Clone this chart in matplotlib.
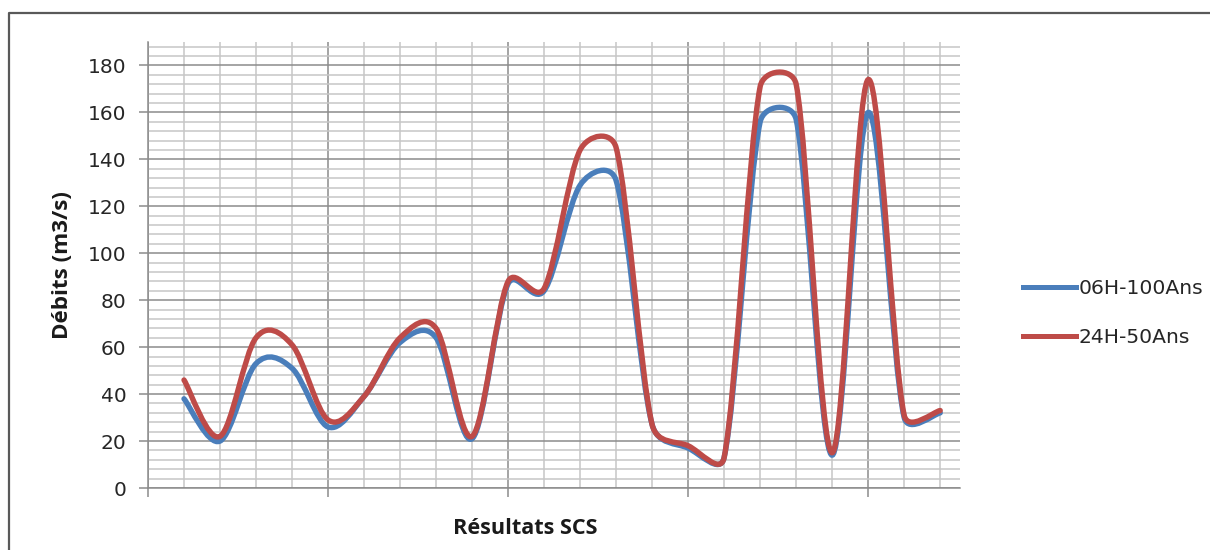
import numpy as np
import matplotlib

matplotlib.use("Agg")
import matplotlib.pyplot as plt
from matplotlib.path import Path
from matplotlib.patches import PathPatch
from matplotlib.lines import Line2D
from matplotlib.ticker import MultipleLocator

plt.rcParams["font.family"] = ["DejaVu Sans"]

# débits par point de calcul (m3/s)
points = np.arange(1, 23)
debit_06h_100ans = [38, 20, 53, 51, 26, 39, 62, 64, 21, 87, 84, 129,
                    131, 27, 17, 13, 156, 157, 14, 160, 30, 32]
debit_24h_50ans = [46, 22, 64, 61, 29, 39, 64, 68, 22, 88, 85, 144,
                   145, 27, 18, 13, 171, 172, 15, 174, 31, 33]
series_labels = ["06H-100Ans", "24H-50Ans"]
series_colors = ["#4a7ebb", "#be4b48"]

W, H = 1210, 550
fig = plt.figure(figsize=(W / 100, H / 100), dpi=100)
ax = fig.add_axes([148 / W, 62 / H, 812 / W, 446 / H])
ax.set_xlim(0, 22.55)
ax.set_ylim(0, 190)


def smooth_path(ax, xs, ys):
    """Bezier through the points, handles clamped like a spreadsheet smoothed line."""
    pts = ax.transData.transform(np.column_stack([xs, ys]).astype(float))
    n = len(pts)
    verts = [pts[0]]
    codes = [Path.MOVETO]
    for i in range(n - 1):
        p0 = pts[max(i - 1, 0)]
        p1 = pts[i]
        p2 = pts[i + 1]
        p3 = pts[min(i + 2, n - 1)]
        half = np.hypot(*(p2 - p1)) / 2
        a = (p2 - p0) / 6
        b = (p3 - p1) / 6
        la, lb = np.hypot(*a), np.hypot(*b)
        if la > half:
            a = a * half / la
        if lb > half:
            b = b * half / lb
        verts += [p1 + a, p2 - b, p2]
        codes += [Path.CURVE4] * 3
    return Path(ax.transData.inverted().transform(np.array(verts)), codes)


for values, color in zip([debit_06h_100ans, debit_24h_50ans], series_colors):
    ax.add_patch(PathPatch(smooth_path(ax, points, values), fill=False,
                           edgecolor=color, linewidth=3.9,
                           capstyle="round", joinstyle="round", zorder=3))

# grille façon tableur
ax.xaxis.set_major_locator(MultipleLocator(5))
ax.xaxis.set_minor_locator(MultipleLocator(1))
ax.yaxis.set_major_locator(MultipleLocator(20))
ax.yaxis.set_minor_locator(MultipleLocator(4))
ax.grid(which="major", color="#8c8c8c", linewidth=1.1)
ax.grid(which="minor", color="#c6c6c6", linewidth=1.1)
ax.set_axisbelow(True)
for side in ("top", "right"):
    ax.spines[side].set_visible(False)
for side in ("left", "bottom"):
    ax.spines[side].set_color("#8c8c8c")
    ax.spines[side].set_linewidth(1.1)
ax.tick_params(which="minor", length=0)
ax.tick_params(which="major", length=6.5, width=1.1, color="#8c8c8c")
ax.tick_params(axis="x", labelbottom=False)
ax.tick_params(axis="y", labelsize=14.5, labelcolor="#262626", pad=9)

label_font = dict(family=["Open Sans", "DejaVu Sans"], fontweight="bold",
                  color="#1a1a1a")
fig.text(62 / W, 1 - 265 / H, "Débits (m3/s)", rotation=90, ha="center",
         va="center", fontsize=16.2, **label_font)
fig.text(525 / W, 1 - 529 / H, "Résultats SCS", ha="center", va="center",
         fontsize=15.6, **label_font)

handles = [Line2D([], [], color=c, linewidth=3.6) for c in series_colors]
fig.legend(handles, series_labels, loc="center left",
           bbox_to_anchor=(1023 / W, 1 - 313 / H), frameon=False,
           fontsize=14.6, handlelength=2.6, handletextpad=0.12,
           labelspacing=1.45, borderpad=0, borderaxespad=0,
           labelcolor="#262626")

# cadre du graphique (bords haut et gauche)
fig.add_artist(Line2D([9 / W, 9 / W, 1], [0, 1 - 13 / H, 1 - 13 / H],
                      transform=fig.transFigure, color="#595959",
                      linewidth=1.6))

fig.savefig("out.png", dpi=100, facecolor="white")
